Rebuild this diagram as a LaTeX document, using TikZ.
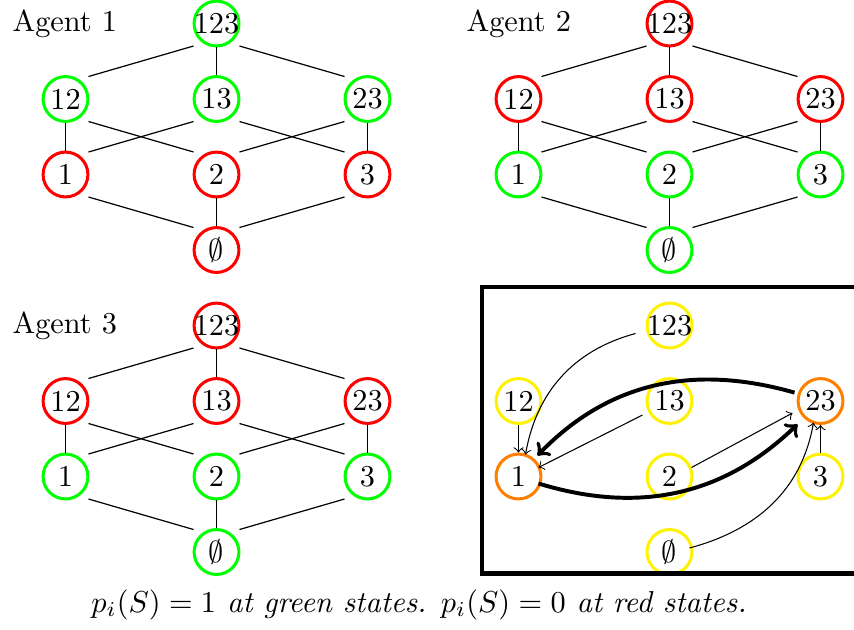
\documentclass[tikz,border=0pt]{standalone}
\usetikzlibrary{calc}
\tikzset{
  st/.style={circle, draw, line width=1pt, minimum size=14.8pt, inner sep=0pt},
  edge/.style={line width=0.4pt},
  thinarr/.style={->, line width=0.35pt},
  thickarr/.style={->, line width=1.3pt},
  lbl/.style={anchor=base west, inner sep=0pt},
}
\newcommand\placenodes[7]{%
  \foreach \n/\x/\y/\lab/\col in {t/151/0/123/#4, a/0/75.5/12/#4, b/151/75.5/13/#4, c/302/75.5/23/#7, d/0/151/1/#6, e/151/151/2/#5, f/302/151/3/#5, z/151/226.5/$\emptyset$/#5}
  {\node[st, draw=\col] (#1\n) at ({#2+\x},{#3+\y}) {\makebox[0pt]{\lab}};}%
}
\newcommand\latticeedges[1]{%
  \draw[edge] ($(#1t)+(-23,22.5)$) -- ($(#1a)+(23,-22.5)$);
  \draw[edge] (#1t) -- (#1b);
  \draw[edge] ($(#1t)+(23,22.5)$) -- ($(#1c)+(-23,-22.5)$);
  \draw[edge] (#1a) -- (#1d);
  \draw[edge] ($(#1a)+(23,22.5)$) -- ($(#1e)+(-23,-22.5)$);
  \draw[edge] ($(#1b)+(-23,22.5)$) -- ($(#1d)+(23,-22.5)$);
  \draw[edge] ($(#1b)+(23,22.5)$) -- ($(#1f)+(-23,-22.5)$);
  \draw[edge] ($(#1c)+(-23,22.5)$) -- ($(#1e)+(23,-22.5)$);
  \draw[edge] (#1c) -- (#1f);
  \draw[edge] ($(#1d)+(23,22.5)$) -- ($(#1z)+(-23,-22.5)$);
  \draw[edge] (#1e) -- (#1z);
  \draw[edge] ($(#1f)+(-23,22.5)$) -- ($(#1z)+(23,-22.5)$);
}
\begin{document}
\begin{tikzpicture}[x=0.33pt, y=-0.33pt]
\useasboundingbox (0,0) rectangle (854,629);
% lattices
\placenodes{A}{65.5}{23.5}{green}{red}{red}{green}
\latticeedges{A}
\placenodes{B}{518.5}{23.5}{red}{green}{green}{red}
\latticeedges{B}
\placenodes{C}{65.5}{325.5}{red}{green}{green}{red}
\latticeedges{C}
\placenodes{D}{518.5}{325.5}{yellow}{yellow}{orange}{orange}
% labels
\node[lbl] (l1) at (12,31.5) {Agent 1};
\node[lbl] (l2) at (466,31.5) {Agent 2};
\node[lbl] (l3) at (12,333.3) {Agent 3};
% frame
\draw[line width=1.4pt] (482,287) rectangle (900,573.5);
% arrows in the fourth panel
\draw[thinarr] (Da) -- (Dd);
\draw[thinarr] ($(Dt)+(-34,8)$) to[out=195,in=80] ($(Dd)+(7,-22)$);
\draw[thinarr] ($(Db)+(-27,14)$) -- ($(Dd)+(20,-9)$);
\draw[thinarr] ($(De)+(22,-9)$) -- ($(Dc)+(-28,12)$);
\draw[thinarr] (Df) -- (Dc);
\draw[thinarr] ($(Dz)+(20,-4)$) to[out=15,in=260] ($(Dc)+(-7,21.5)$);
\draw[thickarr] ($(Dd)+(20,7)$) to[out=-17,in=224] ($(Dc)+(-23,23.3)$);
\draw[thickarr] ($(Dc)+(-26,-8.4)$) to[out=164,in=46] ($(Dd)+(19,-21)$);
% caption
\node[anchor=base, inner sep=0pt] (cap) at (419,612) {\textit{$p_i(S)=1$ at green states. $p_i(S)=0$ at red states.}};
\end{tikzpicture}
\end{document}
